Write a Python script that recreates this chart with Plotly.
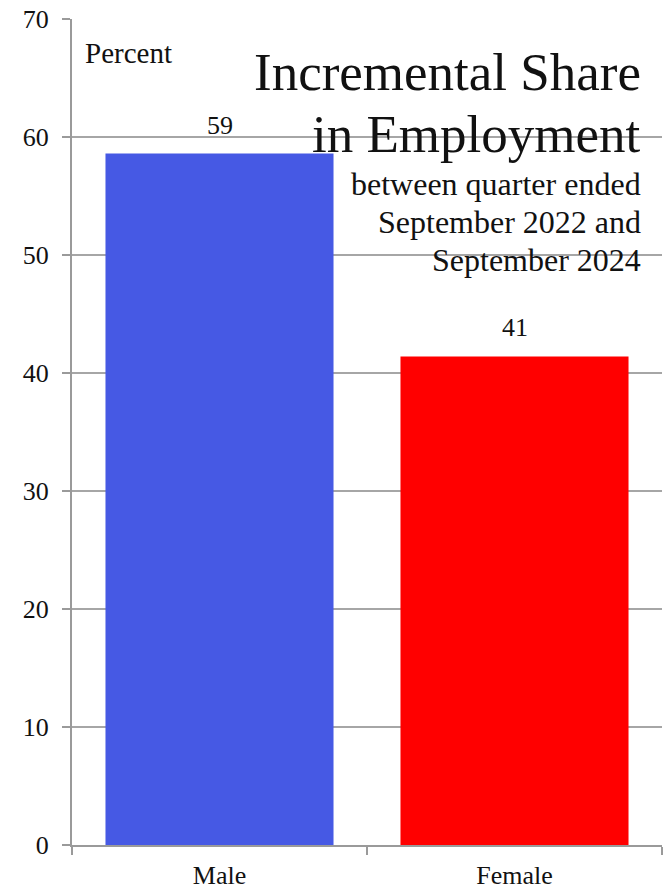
import plotly.graph_objects as go

# Incremental share in employment by sex (percent)
categories = ["Male", "Female"]
shares = [58.6, 41.4]
bar_colors = ["#4659e4", "#ff0000"]

y_ticks = [0, 10, 20, 30, 40, 50, 60, 70]

title_lines = ["Incremental Share", "in Employment"]
subtitle_lines = ["between quarter ended", "September 2022 and", "September 2024"]

W, H = 664, 892
M_L, M_R, M_T, M_B = 72, 2, 19, 47
PLOT_H = H - M_T - M_B
PLOT_W = W - M_L - M_R
FONT = "Liberation Serif"


def py(p):
    """Pixel row -> paper y."""
    return (H - M_B - p) / PLOT_H


def px(p):
    """Pixel column -> paper x."""
    return (p - M_L) / PLOT_W


fig = go.Figure(
    go.Bar(
        x=categories,
        y=shares,
        marker=dict(color=bar_colors, line=dict(width=0)),
        hoverinfo="skip",
    )
)

annotations = []
# value labels above bars
for c, v in zip(categories, shares):
    annotations.append(dict(
        x=c, y=v, xref="x", yref="y", text=f"{v:.0f}", showarrow=False,
        yanchor="bottom", xanchor="center", yshift=12,
        font=dict(family=FONT, size=26, color="#111"),
    ))

annotations.append(dict(
    x=px(83), y=py(53), xref="paper", yref="paper", text="Percent",
    showarrow=False, xanchor="left", yanchor="middle",
    font=dict(family=FONT, size=29, color="#111"),
))

for line, cy in zip(title_lines, [72, 134]):
    annotations.append(dict(
        x=px(643), y=py(cy), xref="paper", yref="paper", text=line,
        showarrow=False, xanchor="right", yanchor="middle",
        font=dict(family=FONT, size=53, color="#111"),
    ))

for line, cy in zip(subtitle_lines, [184, 222, 260]):
    annotations.append(dict(
        x=px(643), y=py(cy), xref="paper", yref="paper", text=line,
        showarrow=False, xanchor="right", yanchor="middle",
        font=dict(family=FONT, size=32, color="#111"),
    ))

fig.update_layout(
    width=W, height=H,
    margin=dict(l=M_L, r=M_R, t=M_T, b=M_B, pad=0),
    paper_bgcolor="white", plot_bgcolor="white",
    showlegend=False,
    bargap=0.227,
    font=dict(family=FONT, size=26, color="#111"),
    annotations=annotations,
    xaxis=dict(
        type="category",
        showline=True, linecolor="#9a9a9a", linewidth=2,
        ticks="outside", tickson="boundaries", ticklen=8, tickwidth=2,
        tickcolor="#9a9a9a",
        showgrid=False, zeroline=False,
        tickfont=dict(family=FONT, size=26, color="#111"),
        ticklabelstandoff=6,
    ),
    yaxis=dict(
        range=[0, 70], tickvals=y_ticks, ticktext=[str(t) for t in y_ticks],
        showline=True, linecolor="#9a9a9a", linewidth=2,
        ticks="outside", ticklen=8, tickwidth=2, tickcolor="#9a9a9a",
        showgrid=True, gridcolor="#a6a6a6", gridwidth=1.5,
        zeroline=False,
        tickfont=dict(family=FONT, size=26, color="#111"),
        ticklabelstandoff=8,
    ),
)

fig.write_html("out.html")
